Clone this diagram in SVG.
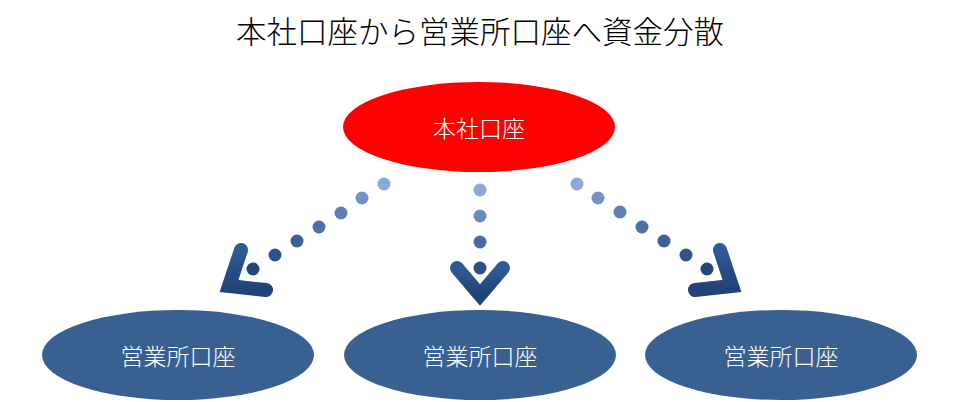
<svg xmlns="http://www.w3.org/2000/svg" width="960" height="402" viewBox="0 0 960 402">
<style>
.t{font-family:"Noto Sans CJK JP","Noto Sans",sans-serif;fill:#fff;font-size:23px;font-weight:300;text-anchor:middle;dominant-baseline:central}
.title{font-family:"Noto Sans CJK JP","Noto Sans",sans-serif;fill:#000;font-size:30.5px;font-weight:300;text-anchor:middle;dominant-baseline:central}
.ch{fill:none;stroke:url(#gch);stroke-width:14;stroke-linecap:round;stroke-linejoin:miter}
.blue{fill:#386192}
</style>
<defs>
<linearGradient id="gch" x1="0" y1="0" x2="0" y2="1"><stop offset="0" stop-color="#2f5a93"/><stop offset="1" stop-color="#1f4376"/></linearGradient>
</defs>
<rect width="960" height="402" fill="#fff"/>
<text class="title" x="480" y="30">本社口座から営業所口座へ資金分散</text>
<g id="hq"><ellipse cx="479" cy="127" rx="136" ry="45" fill="#ff0000"/><text class="t" x="479" y="127">本社口座</text></g>
<g id="branch1"><ellipse class="blue" cx="178" cy="355" rx="136" ry="45"/><text class="t" x="178" y="355">営業所口座</text></g>
<g id="branch2"><ellipse class="blue" cx="480" cy="355" rx="136" ry="45"/><text class="t" x="480" y="355">営業所口座</text></g>
<g id="branch3"><ellipse class="blue" cx="781" cy="355" rx="136" ry="45"/><text class="t" x="781" y="355">営業所口座</text></g>
<g id="connectors">
<g>
<circle cx="384" cy="184" r="6.5" fill="#8ca8d8"/>
<circle cx="362" cy="198" r="6.5" fill="#7592c6"/>
<circle cx="341" cy="213" r="6.5" fill="#5f7fb3"/>
<circle cx="319" cy="227" r="6.5" fill="#4e6fa3"/>
<circle cx="297" cy="241" r="6.5" fill="#3e6096"/>
<circle cx="275" cy="255" r="6.5" fill="#2f5288"/>
<circle cx="253" cy="269" r="6.5" fill="#22467b"/>
<path class="ch" d="M241 250 L229 286 L266 290"/>
</g>
<g>
<circle cx="480" cy="190" r="6.5" fill="#8ca8d8"/>
<circle cx="480" cy="216" r="6.5" fill="#6a89bd"/>
<circle cx="480" cy="242" r="6.5" fill="#4a6b9f"/>
<circle cx="480" cy="268" r="6.5" fill="#2c4f85"/>
<path class="ch" d="M457 268 L480 295 L503 268"/>
</g>
<g>
<circle cx="577" cy="184" r="6.5" fill="#8ca8d8"/>
<circle cx="598" cy="198" r="6.5" fill="#7592c6"/>
<circle cx="620" cy="212" r="6.5" fill="#5f7fb3"/>
<circle cx="642" cy="227" r="6.5" fill="#4e6fa3"/>
<circle cx="664" cy="241" r="6.5" fill="#3e6096"/>
<circle cx="686" cy="255" r="6.5" fill="#2f5288"/>
<circle cx="707" cy="269" r="6.5" fill="#22467b"/>
<path class="ch" d="M720 250 L732 286 L695 290"/>
</g>
</g>
</svg>
